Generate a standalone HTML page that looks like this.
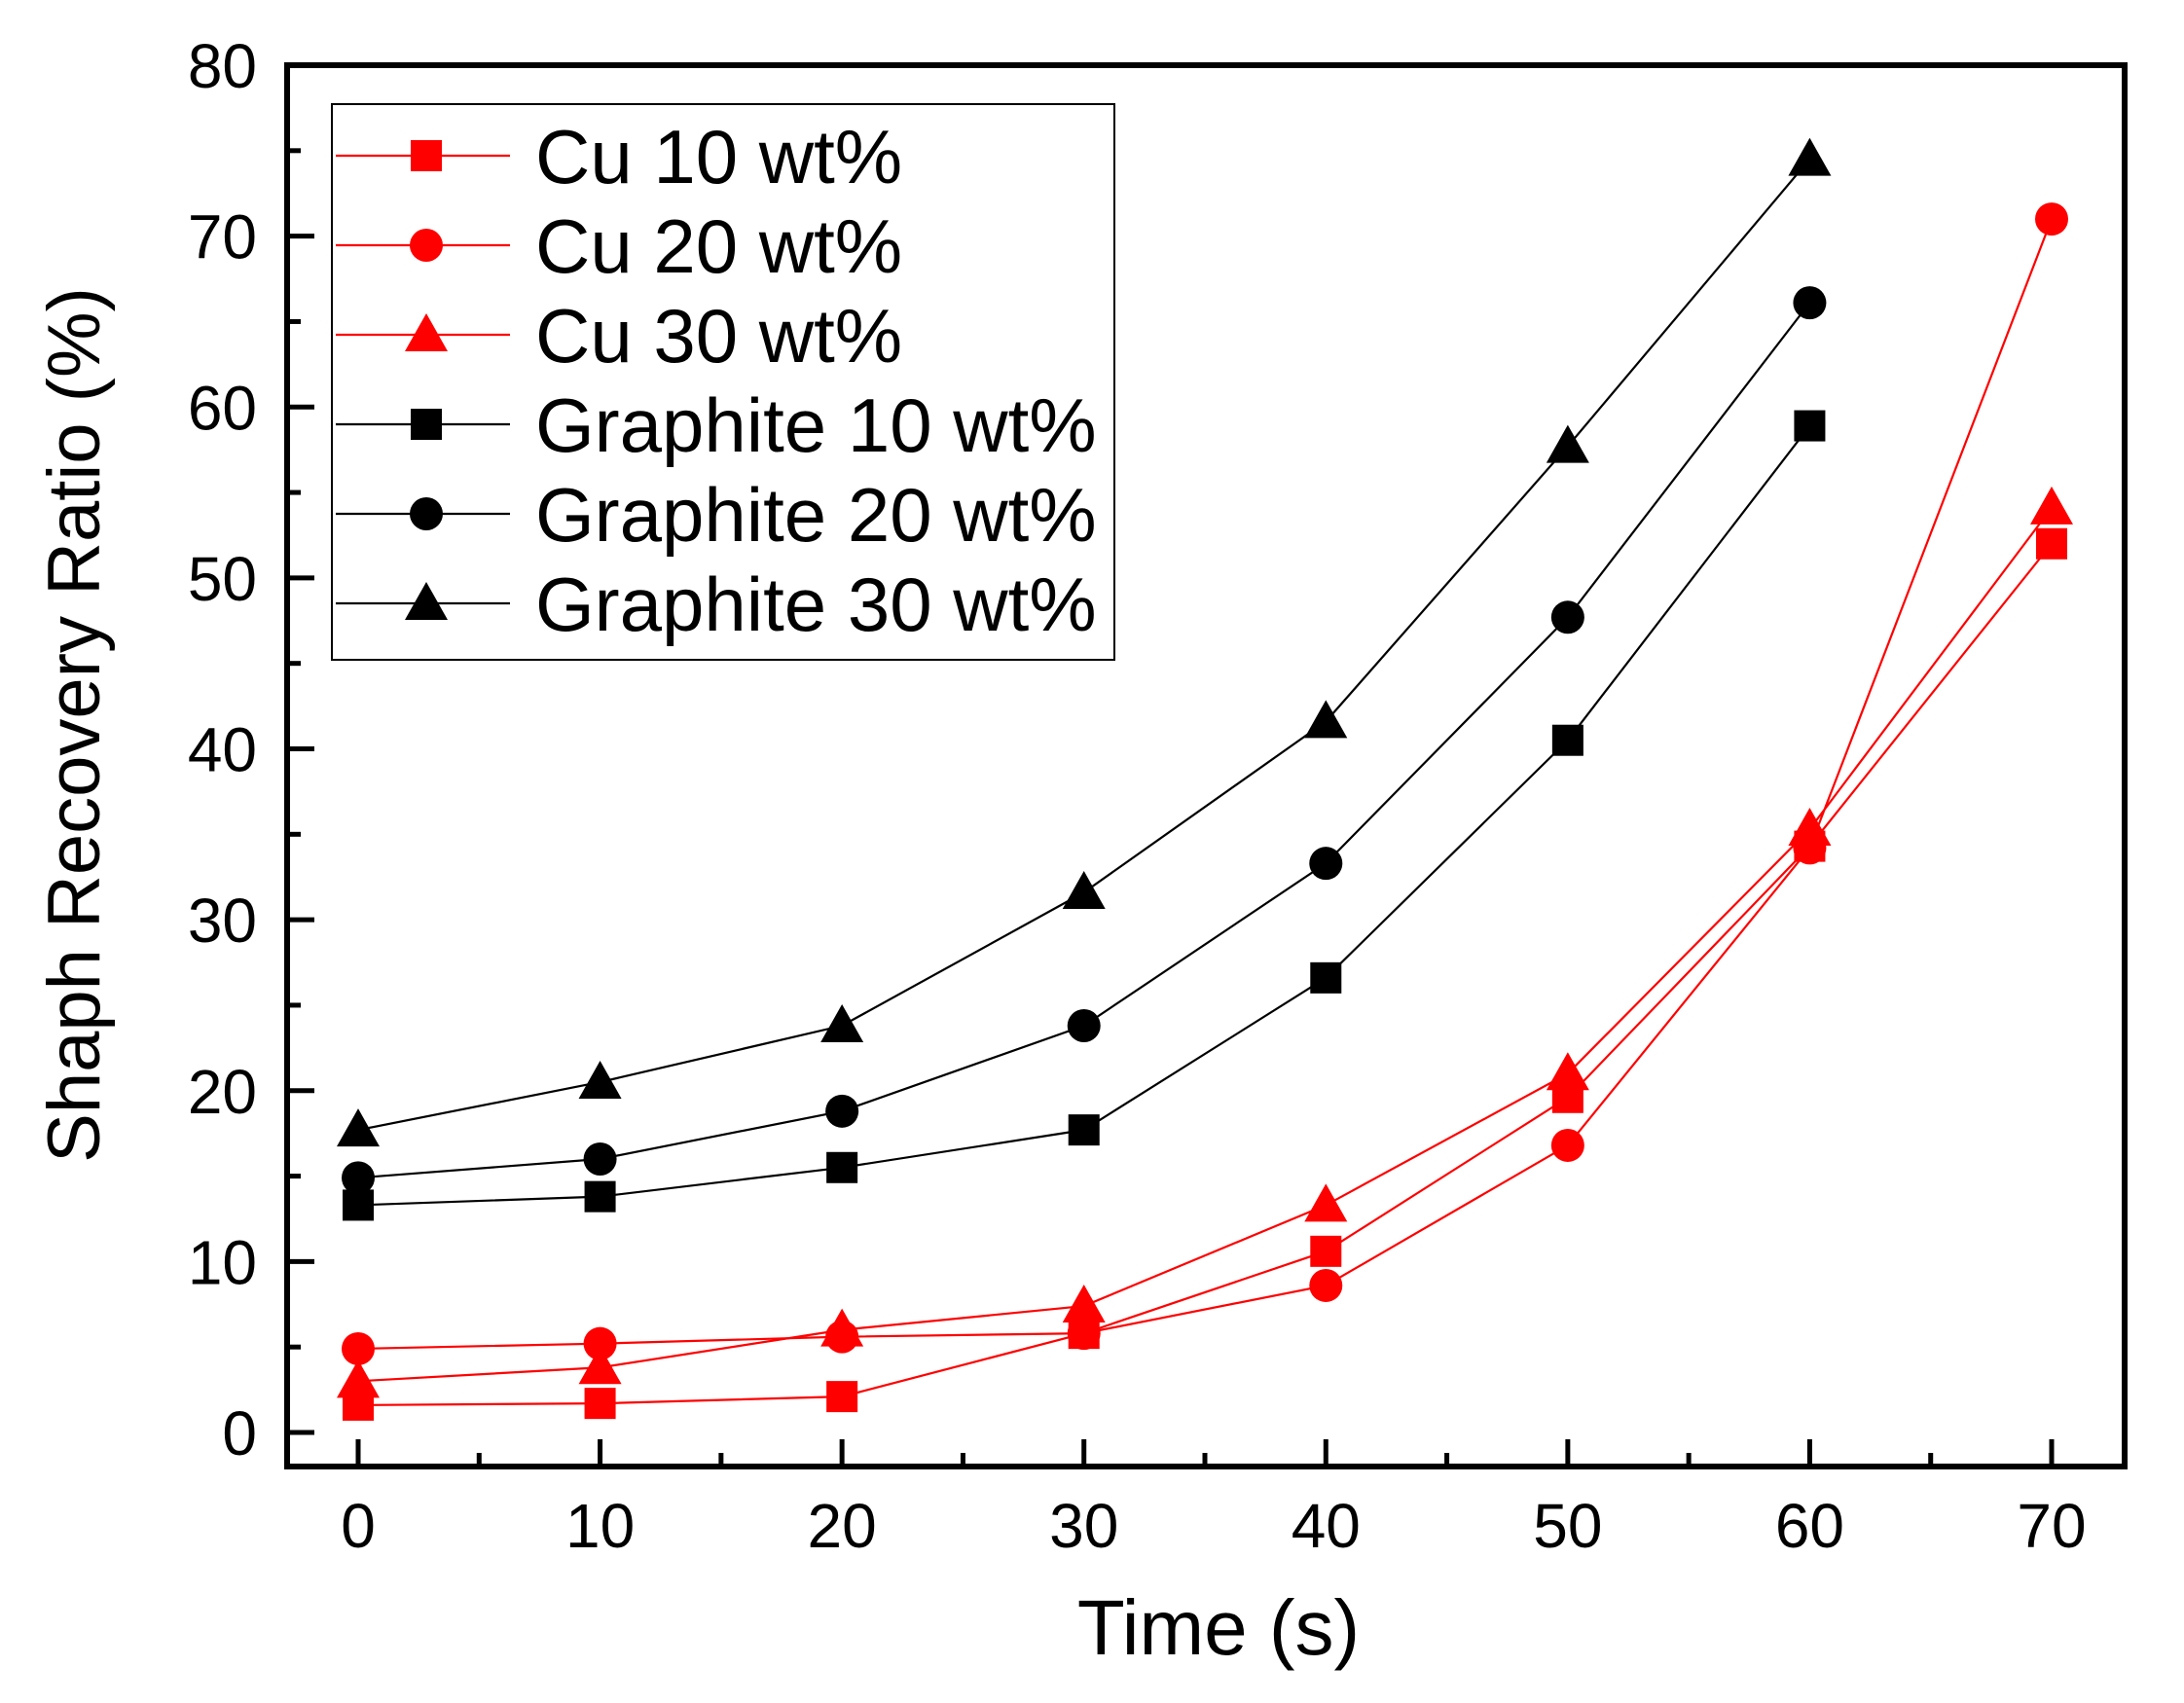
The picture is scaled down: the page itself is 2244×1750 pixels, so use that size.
<!DOCTYPE html>
<html><head><meta charset="utf-8"><style>html,body{margin:0;padding:0;background:#fff}svg{display:block}text{font-family:"Liberation Sans",Arial,sans-serif}</style></head>
<body>
<svg id="chart" width="2244" height="1750" viewBox="0 0 2244 1750" xmlns="http://www.w3.org/2000/svg">
</svg>
<script>
const xs = [0,10,20,30,40,50,60,70];
const cu10 = [1.6,1.7,2.1,5.8,10.6,19.6,34.3,52];
const cu20 = [4.9,5.2,5.6,5.8,8.6,16.8,34.2,71];
const cu30 = [3.0,3.8,6.0,7.4,13.3,21.0,35.3,54.1];
const g10 = [13.3,13.8,15.5,17.7,26.6,40.5,58.9];
const g20 = [14.9,16.0,18.8,23.8,33.3,47.7,66.1];
const g30 = [17.7,20.5,23.8,31.6,41.6,57.7,74.5];
const xTicks = [0,10,20,30,40,50,60,70];
const yTicks = [0,10,20,30,40,50,60,70,80];
const seriesNames = ["Cu 10 wt%","Cu 20 wt%","Cu 30 wt%","Graphite 10 wt%","Graphite 20 wt%","Graphite 30 wt%"];

const NS="http://www.w3.org/2000/svg";
const svg=document.getElementById('chart');
const L=295,R=2183,T=67,B=1507;
function X(v){return 368+(v-0)*(2108-368)/70;}
function Y(v){return 1472-(v)*(1472-67)/80;}
function el(tag,attrs,parent){const e=document.createElementNS(NS,tag);for(const k in attrs)e.setAttribute(k,attrs[k]);(parent||svg).appendChild(e);return e;}

function marker(shape,cx,cy,color,g,sx){
  sx=sx||1;let m;
  if(shape==='square'){m=el('rect',{x:cx-16*sx,y:cy-16,width:32*sx,height:32,fill:color},g);}
  else if(shape==='circle'){m=el('ellipse',{cx:cx,cy:cy,rx:17*sx,ry:17,fill:color},g);}
  else{m=el('polygon',{points:`${cx-22*sx},${cy+17} ${cx+22*sx},${cy+17} ${cx},${cy-22}`,fill:color},g);}
  return m;
}

const series=[
 {d:cu10,c:'#ff0000',s:'square'},{d:cu20,c:'#ff0000',s:'circle'},{d:cu30,c:'#ff0000',s:'triangle'},
 {d:g10,c:'#000',s:'square'},{d:g20,c:'#000',s:'circle'},{d:g30,c:'#000',s:'triangle'}];

series.forEach((sr,i)=>{
  const g=el('g',{});
  
  
  const pts=sr.d.map((v,j)=>X(xs[j])+','+Y(v)).join(' ');
  const pl=el('polyline',{points:pts,fill:'none',stroke:sr.c,'stroke-width':2.2},g);
  
  
  sr.d.forEach((v,j)=>{
    const m=marker(sr.s,X(xs[j]),Y(v),sr.c,g);
    
    
  });
});

const frame=el('rect',{x:L,y:T,width:R-L,height:B-T,fill:'none',stroke:'#000','stroke-width':6});



xTicks.forEach(v=>{
  const t=el('line',{x1:X(v),x2:X(v),y1:B,y2:B-28,stroke:'#000','stroke-width':5});
  
  
  const lb=el('text',{x:X(v),y:1590,'font-size':64,'text-anchor':'middle'});
  lb.textContent=v;
  
  
  if(v<70){
    const mt=el('line',{x1:X(v+5),x2:X(v+5),y1:B,y2:B-14,stroke:'#000','stroke-width':5});
    
    
  }
});
yTicks.forEach(v=>{
  const t=el('line',{x1:L,x2:L+28,y1:Y(v),y2:Y(v),stroke:'#000','stroke-width':5});
  
  
  const lb=el('text',{x:264,y:Y(v)+23,'font-size':64,'text-anchor':'end'});
  lb.textContent=v;
  
  
  if(v<80){
    const mt=el('line',{x1:L,x2:L+14,y1:Y(v+5),y2:Y(v+5),stroke:'#000','stroke-width':5});
    
    
  }
});

const xt=el('text',{x:1252,y:1700,'font-size':80,'text-anchor':'middle'});
xt.textContent='Time (s)';


const yt=el('text',{x:0,y:0,'font-size':76,'text-anchor':'middle',transform:'translate(102,745) rotate(-90)'});
yt.textContent='Shaph Recovery Ratio (%)';



const lg=el('g',{});


const lbox=el('rect',{x:341,y:107,width:804,height:571,fill:'#fff',stroke:'#000','stroke-width':2},lg);


series.forEach((sr,i)=>{
  const y=160+i*92;
  const g=el('g',{},lg);
  
  
  el('line',{x1:345,x2:524,y1:y,y2:y,stroke:sr.c,'stroke-width':2.2},g);
  marker(sr.s,438,y,sr.c,g,1);
  const t=el('text',{x:550,y:y+28,'font-size':78},g);
  t.textContent=seriesNames[i];
  
  
});
</script>
</body></html>
